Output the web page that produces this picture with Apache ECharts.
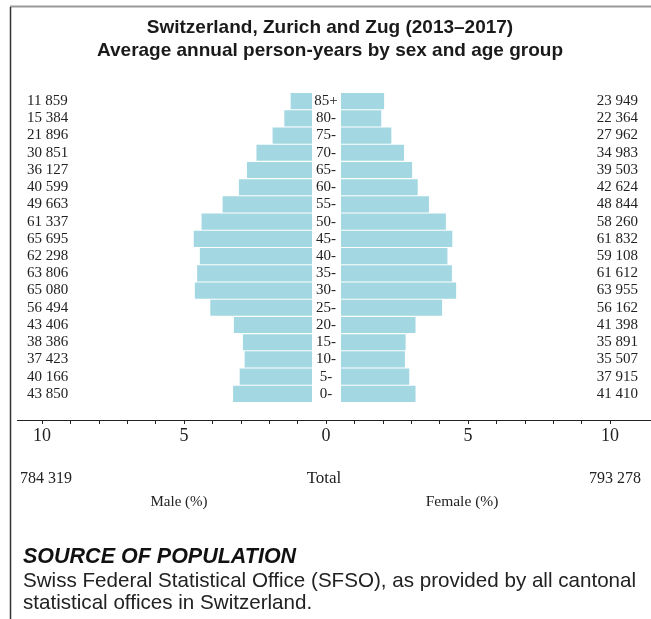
<!DOCTYPE html>
<html>
<head>
<meta charset="utf-8">
<script src="https://cdn.jsdelivr.net/npm/echarts@6/dist/echarts.min.js"></script>
<style>
  html, body { margin: 0; padding: 0; background: #fff; }
  #chart { width: 651px; height: 619px; }
</style>
</head>
<body>
<div id="chart"></div>
<script>
// age groups, youngest first (category axis runs bottom-up)
const ages = ['0-', '5-', '10-', '15-', '20-', '25-', '30-', '35-', '40-', '45-', '50-', '55-', '60-', '65-', '70-', '75-', '80-', '85+'];
const maleCounts = [43850, 40166, 37423, 38386, 43406, 56494, 65080, 63806, 62298, 65695, 61337, 49663, 40599, 36127, 30851, 21896, 15384, 11859];
const femaleCounts = [41410, 37915, 35507, 35891, 41398, 56162, 63955, 61612, 59108, 61832, 58260, 48844, 42624, 39503, 34983, 27962, 22364, 23949];
const maleTotal = 784319;
const femaleTotal = 793278;
const axisTicks = [-10, -5, 0, 5, 10];

const fmt = n => String(n).replace(/\B(?=(\d{3})+(?!\d))/g, ' ');
const all = maleTotal + femaleTotal;
// bar lengths are shares of the whole population
const malePct = maleCounts.map(v => v / all * 100);
const femalePct = femaleCounts.map(v => v / all * 100);

const SERIF = '"Liberation Serif", "DejaVu Serif", serif';
const SANS = '"Liberation Sans", Arial, sans-serif';
const barColor = '#a3d8e2';

var myChart = echarts.init(document.getElementById('chart'), null, { renderer: 'canvas' });

const gridTop = 92.5, gridH = 310;

const option = {
  animation: false,
  backgroundColor: '#fff',
  title: {
    text: 'Switzerland, Zurich and Zug (2013\u20132017)\nAverage annual person-years by sex and age group',
    left: 325,
    textAlign: 'center',
    top: 11,
    textStyle: { fontFamily: SANS, fontSize: 19, fontWeight: 'bold', color: '#1a1a1a', lineHeight: 23 }
  },
  grid: [
    { left: 28, top: gridTop, width: 284, height: gridH },   // male
    { left: 341, top: gridTop, width: 284, height: gridH },  // female
    { left: 42, top: 419, width: 568, height: 1 }            // shared scale
  ],
  xAxis: [
    { gridIndex: 0, type: 'value', min: 0, max: 10, inverse: true, show: false },
    { gridIndex: 1, type: 'value', min: 0, max: 10, show: false },
    {
      gridIndex: 2, type: 'value', min: -10, max: 10, interval: 1, position: 'bottom',
      axisLine: { show: true, lineStyle: { color: '#222', width: 1 } },
      axisTick: { show: true, length: 4, lineStyle: { color: '#222' } },
      splitLine: { show: false },
      axisLabel: {
        margin: 7, fontFamily: SERIF, fontSize: 18, color: '#222',
        formatter: v => axisTicks.indexOf(v) >= 0 ? String(Math.abs(v)) : ''
      }
    }
  ],
  yAxis: [
    { // male counts column
      gridIndex: 0, type: 'category', data: ages, position: 'left',
      axisLine: { show: false }, axisTick: { show: false },
      axisLabel: {
        interval: 0, align: 'left', margin: 1, fontFamily: SERIF, fontSize: 15, color: '#222',
        formatter: (v, i) => fmt(maleCounts[i])
      }
    },
    { // age labels in the middle
      gridIndex: 1, type: 'category', data: ages, position: 'left',
      axisLine: { show: false }, axisTick: { show: false },
      axisLabel: { interval: 0, align: 'center', margin: 15, fontFamily: SERIF, fontSize: 15, color: '#222' }
    },
    { // female counts column
      gridIndex: 1, type: 'category', data: ages, position: 'right',
      axisLine: { show: false }, axisTick: { show: false },
      axisLabel: {
        interval: 0, align: 'right', margin: 13, fontFamily: SERIF, fontSize: 15, color: '#222',
        formatter: (v, i) => fmt(femaleCounts[i])
      }
    },
    { gridIndex: 2, type: 'value', show: false }
  ],
  series: [
    {
      name: 'Male', type: 'bar', xAxisIndex: 0, yAxisIndex: 0,
      data: malePct, barCategoryGap: '6%',
      itemStyle: { color: barColor }, silent: true
    },
    {
      name: 'Female', type: 'bar', xAxisIndex: 1, yAxisIndex: 1,
      data: femalePct, barCategoryGap: '6%',
      itemStyle: { color: barColor }, silent: true
    }
  ],
  graphic: [
    // frame
    { type: 'line', shape: { x1: 10, y1: 6.5, x2: 651, y2: 6.5 }, style: { stroke: '#999', lineWidth: 2 } },
    { type: 'line', shape: { x1: 10.5, y1: 7, x2: 10.5, y2: 619 }, style: { stroke: '#333', lineWidth: 1.5 } },
    // axis line extension
    { type: 'line', shape: { x1: 17, y1: 420.5, x2: 651, y2: 420.5 }, style: { stroke: '#222', lineWidth: 1 } },
    // totals and axis names
    { type: 'text', x: 20, y: 479, style: { text: fmt(maleTotal), font: '16px ' + SERIF, fill: '#222', verticalAlign: 'middle' } },
    { type: 'text', x: 324, y: 479, style: { text: 'Total', font: '17px ' + SERIF, fill: '#222', align: 'center', verticalAlign: 'middle' } },
    { type: 'text', x: 641, y: 479, style: { text: fmt(femaleTotal), font: '16px ' + SERIF, fill: '#222', align: 'right', verticalAlign: 'middle' } },
    { type: 'text', x: 179, y: 502, style: { text: 'Male (%)', font: '15px ' + SERIF, fill: '#222', align: 'center', verticalAlign: 'middle' } },
    { type: 'text', x: 462, y: 502, style: { text: 'Female (%)', font: '15.5px ' + SERIF, fill: '#222', align: 'center', verticalAlign: 'middle' } },
    // source note
    { type: 'text', x: 23, y: 557, style: { text: 'SOURCE OF POPULATION', font: 'italic bold 21.5px ' + SANS, fill: '#111', verticalAlign: 'middle' } },
    { type: 'text', x: 23, y: 581, style: { text: 'Swiss Federal Statistical Office (SFSO), as provided by all cantonal', font: '20.6px ' + SANS, fill: '#222', verticalAlign: 'middle' } },
    { type: 'text', x: 23, y: 603, style: { text: 'statistical offices in Switzerland.', font: '20.6px ' + SANS, fill: '#222', verticalAlign: 'middle' } }
  ]
};

myChart.setOption(option);
</script>
</body>
</html>
